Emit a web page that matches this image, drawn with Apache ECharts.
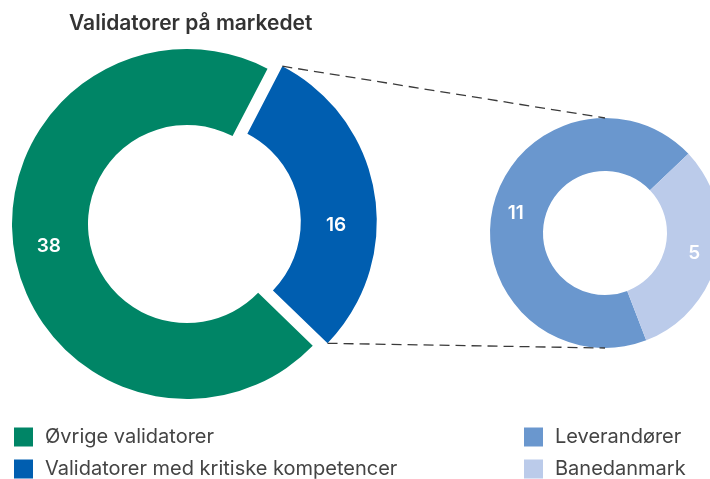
<!DOCTYPE html>
<html>
<head>
<meta charset="utf-8">
<script src="https://cdn.jsdelivr.net/npm/echarts@6/dist/echarts.min.js"></script>
<style>html,body{margin:0;padding:0;background:#fff}#c{width:710px;height:479px}</style>
</head>
<body>
<div id="c"></div>
<script>
const titleText = "Validatorer på markedet";
const mainCategories = ["Validatorer med kritiske kompetencer", "Øvrige validatorer"];
const mainValues = [16, 38];
const mainLegendOrder = ["Øvrige validatorer", "Validatorer med kritiske kompetencer"];
const subCategories = ["Leverandører", "Banedanmark"];
const subValues = [11, 5];

const colors = {
  "Øvrige validatorer": "#008566",
  "Validatorer med kritiske kompetencer": "#005EB0",
  "Leverandører": "#6A97CE",
  "Banedanmark": "#BBCBEA"
};

const FONT = "Inter, 'Liberation Sans', sans-serif";
const mainCenter = [187, 224], mainR = [99, 175], blueOffset = 15, mainStart = 62.6;
const subCenter = [605, 233], subR = [62, 115], subStart = -69;

const chart = echarts.init(document.getElementById('c'), null, {renderer: 'canvas'});

const total = mainValues.reduce((a, b) => a + b, 0);
const blueSpan = 360 * mainValues[0] / total;
const d = Math.PI / 180;
const bStart = mainStart * d, bEnd = (mainStart - blueSpan) * d, bMid = (bStart + bEnd) / 2;
const ox = blueOffset * Math.cos(bMid), oy = -blueOffset * Math.sin(bMid);
const topCorner = [mainCenter[0] + mainR[1] * Math.cos(bStart) + ox, mainCenter[1] - mainR[1] * Math.sin(bStart) + oy];
const botCorner = [mainCenter[0] + mainR[1] * Math.cos(bEnd) + ox, mainCenter[1] - mainR[1] * Math.sin(bEnd) + oy];
const subTop = [subCenter[0], subCenter[1] - subR[1]];
const subBot = [subCenter[0], subCenter[1] + subR[1]];

const lineStyle = {stroke: '#3a3a3a', lineWidth: 1.3, lineDash: [10, 6]};

const labelBase = {show: true, position: 'inside', color: '#fff', fontSize: 19, fontWeight: 600, fontFamily: FONT, formatter: '{c}'};

function mkLegend(name, left, top) {
  return {data: [name], orient: 'vertical', left: left, top: top, padding: 0, itemWidth: 19, itemHeight: 19, icon: 'rect', selectedMode: false,
          textStyle: {fontFamily: FONT, fontSize: 20, color: '#444', padding: [0, 0, 0, 7]}};
}

chart.setOption({
  animation: false,
  title: {text: titleText, left: 64, top: 8, textStyle: {fontFamily: FONT, fontSize: 21, fontWeight: 600, color: '#333'}},
  legend: [
    mkLegend(mainLegendOrder[0], 14, 427),
    mkLegend(mainLegendOrder[1], 14, 459),
    mkLegend(subCategories[0], 524, 427),
    mkLegend(subCategories[1], 524, 459)
  ],
  series: [
    {
      type: 'pie', center: mainCenter, radius: mainR, startAngle: mainStart, clockwise: true,
      selectedMode: 'single', selectedOffset: blueOffset, avoidLabelOverlap: false,
      label: labelBase, labelLine: {show: false},
      emphasis: {disabled: true},
      data: mainCategories.map((n, i) => ({
        name: n, value: mainValues[i], selected: i === 0,
        itemStyle: {color: colors[n]},
        label: i === 0 ? {formatter: '{gap| }\n{v|{c}}', rich: {gap: {height: 52, fontSize: 1}, v: {color: '#fff', fontSize: 19, fontWeight: 600, fontFamily: FONT, padding: [0, 8, 0, 0]}}} : {}
      }))
    },
    {
      type: 'pie', center: subCenter, radius: subR, startAngle: subStart, clockwise: true,
      avoidLabelOverlap: false,
      label: labelBase, labelLine: {show: false},
      emphasis: {disabled: true},
      data: subCategories.map((n, i) => ({name: n, value: subValues[i], itemStyle: {color: colors[n]}}))
    }
  ],
  graphic: [
    {type: 'line', shape: {x1: topCorner[0], y1: topCorner[1], x2: subTop[0], y2: subTop[1]}, style: lineStyle, z: 10},
    {type: 'line', shape: {x1: botCorner[0], y1: botCorner[1], x2: subBot[0], y2: subBot[1]}, style: lineStyle, z: 10}
  ]
});
</script>
</body>
</html>
